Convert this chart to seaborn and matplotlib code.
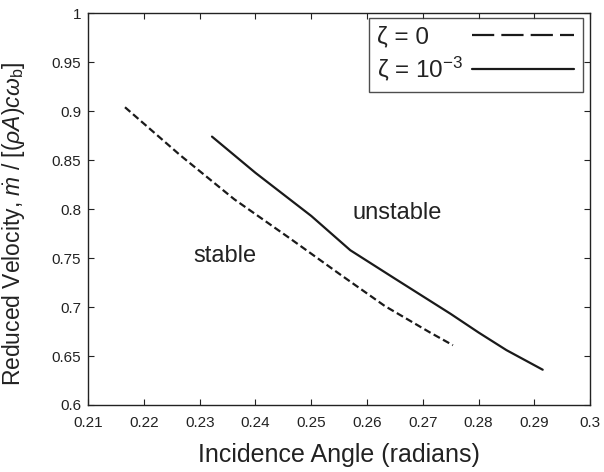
import matplotlib
matplotlib.use('Agg')
import matplotlib.pyplot as plt
import numpy as np
import pandas as pd
import seaborn as sns
from matplotlib.lines import Line2D

# Data
angle_z0 = [0.2166, 0.2265, 0.2362, 0.2462, 0.2550, 0.2632, 0.2713, 0.2754]
vel_z0 = [0.904, 0.855, 0.810, 0.770, 0.734, 0.701, 0.674, 0.661]

angle_z3 = [0.2322, 0.2400, 0.2500, 0.2570, 0.2650, 0.2700, 0.2750, 0.2800, 0.2850, 0.2915]
vel_z3 = [0.874, 0.837, 0.793, 0.758, 0.729, 0.711, 0.693, 0.674, 0.656, 0.636]

xticks = np.round(np.arange(0.21, 0.3001, 0.01), 2)
yticks = np.round(np.arange(0.6, 1.0001, 0.05), 2)

df = pd.concat([
    pd.DataFrame({'angle': angle_z0, 'vel': vel_z0, 'case': 'z0'}),
    pd.DataFrame({'angle': angle_z3, 'vel': vel_z3, 'case': 'z3'}),
])

sns.set_theme(style='ticks')
plt.rcParams['font.family'] = ['Liberation Sans', 'DejaVu Sans']
plt.rcParams['mathtext.fontset'] = 'custom'
plt.rcParams['mathtext.rm'] = 'Liberation Sans'
plt.rcParams['mathtext.it'] = 'Liberation Sans:italic'
plt.rcParams['mathtext.bf'] = 'Liberation Sans:bold'

fig = plt.figure(figsize=(6.04, 4.72), dpi=100)
ax = fig.add_axes([0.146, 0.142, 0.831, 0.830])

sns.lineplot(data=df, x='angle', y='vel', hue='case', style='case',
             palette={'z0': '#1a1a1a', 'z3': '#1a1a1a'},
             dashes={'z0': (3.2, 1.6), 'z3': ''},
             linewidth=1.6, legend=False, sort=False, ax=ax)

ax.text(0.2654, 0.796, 'unstable', ha='center', va='center', fontsize=17, color='#222222')
ax.text(0.2346, 0.752, 'stable', ha='center', va='center', fontsize=17, color='#222222')

ax.set(xlim=(0.21, 0.30), ylim=(0.6, 1.0))
ax.set_xticks(xticks)
ax.set_xticklabels([f'{t:g}' for t in xticks])
ax.set_yticks(yticks)
ax.set_yticklabels([f'{t:g}' for t in yticks])
ax.tick_params(direction='in', top=True, right=True, length=4, width=0.8,
               labelsize=11, colors='#222222')
ax.tick_params(axis='x', pad=8)
ax.tick_params(axis='y', pad=5)
for s in ax.spines.values():
    s.set_linewidth(1.0)
    s.set_color('#222222')

ax.set_xlabel('Incidence Angle (radians)', fontsize=18, color='#222222', labelpad=9)
ax.set_ylabel(r'Reduced Velocity, $\dot{m}\ /\ [(\rho A)c\omega_{\mathrm{b}}]$',
              fontsize=16.5, color='#222222')
ax.yaxis.set_label_coords(-0.122, 0.462)

handles = [Line2D([], [], color='#1a1a1a', lw=1.6, dashes=(10, 3.2)),
           Line2D([], [], color='#1a1a1a', lw=1.6)]
leg = ax.legend(handles, ['ζ = 0', r'ζ = 10$^{-3}$'], loc='upper right',
                bbox_to_anchor=(0.985, 0.988),
                markerfirst=False, fontsize=17.5, handlelength=4.2,
                frameon=True, fancybox=False, borderaxespad=0.0,
                labelspacing=0.25, handletextpad=0.35, borderpad=0.35)
leg.get_frame().set_edgecolor('#222222')
leg.get_frame().set_linewidth(1.0)
for t in leg.get_texts():
    t.set_color('#222222')

# left-align the label column: widen the gap of the shorter row
fig.canvas.draw()
r = fig.canvas.get_renderer()
col = leg._legend_handle_box.get_children()[0]
rows = col.get_children()
widths = [row.get_children()[0].get_window_extent(r).width for row in rows]
wmax = max(widths)
for row, w in zip(rows, widths):
    row.sep += (wmax - w) * 72 / fig.dpi

fig.savefig('out.png', dpi=100)
